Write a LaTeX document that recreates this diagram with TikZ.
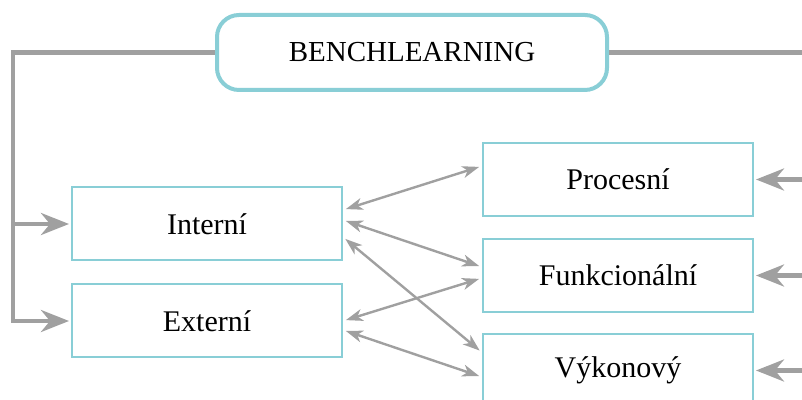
\documentclass[tikz,border=0pt]{standalone}
\usepackage{fontspec}
\setmainfont{Liberation Serif}
\usetikzlibrary{arrows.meta, positioning}
\definecolor{benchTeal}{RGB}{137,206,214}
\definecolor{linkGray}{RGB}{160,160,160}

\begin{document}
\begin{tikzpicture}[x=0.5pt, y=0.5pt,
title/.style={rectangle, rounded corners=11pt, draw=benchTeal, line width=2pt,
fill=white, minimum width=195pt, minimum height=37.5pt,
font=\fontsize{14.5}{17}\selectfont},
box/.style={rectangle, draw=benchTeal, line width=1pt, fill=white,
minimum width=135pt, minimum height=36.5pt,
font=\fontsize{15}{18}\selectfont},
trunk/.style={line width=2.2pt, color=linkGray},
feed/.style={trunk, -{Stealth[length=14pt, width=11pt, inset=4.5pt]}, shorten >=1pt},
link/.style={{Stealth[length=8.5pt, width=6pt, inset=2.5pt]}-{Stealth[length=8.5pt, width=6pt, inset=2.5pt]},
line width=1.2pt, color=linkGray, shorten >=1.5pt, shorten <=1.5pt}]
\useasboundingbox (0,0) rectangle (802,400);
\clip (0,0) rectangle (802,400);
\node[title] (bench) at (412,347.5) {BENCHLEARNING};
\node[box] (int) at (207,176) {Interní};
\node[box, below=11pt of int] (ext) {Externí};
\node[box] (pro) at (618,220.5) {Procesní};
\node[box, below=10.5pt of pro] (fun) {Funkcionální};
\node[box, below=10pt of fun] (vyk) {Výkonový};
\coordinate (lft) at (13,0);
\coordinate (rgt) at (830,0);
% left branch
\draw[feed] (bench.west) -| (lft |- ext.west) -- (ext.west);
\draw[feed] (lft |- int.west) -- (int.west);
% right branch
\draw[trunk] (bench.east) -| (rgt |- vyk.east);
\foreach \n in {pro,fun,vyk}
  \draw[feed] (rgt |- \n.east) -- (\n.east);
% cross links
\draw[link] ([yshift=7pt]int.east) -- ([yshift=6.75pt]pro.west);
\draw[link] ([yshift=2pt]int.east) -- ([yshift=4.25pt]fun.west);
\draw[link] ([yshift=-6.5pt]int.east) -- ([yshift=9pt]vyk.west);
\draw[link] (ext.east) -- ([yshift=-1.25pt]fun.west);
\draw[link] ([yshift=-4.5pt]ext.east) -- ([yshift=-3.25pt]vyk.west);
\end{tikzpicture}
\end{document}
